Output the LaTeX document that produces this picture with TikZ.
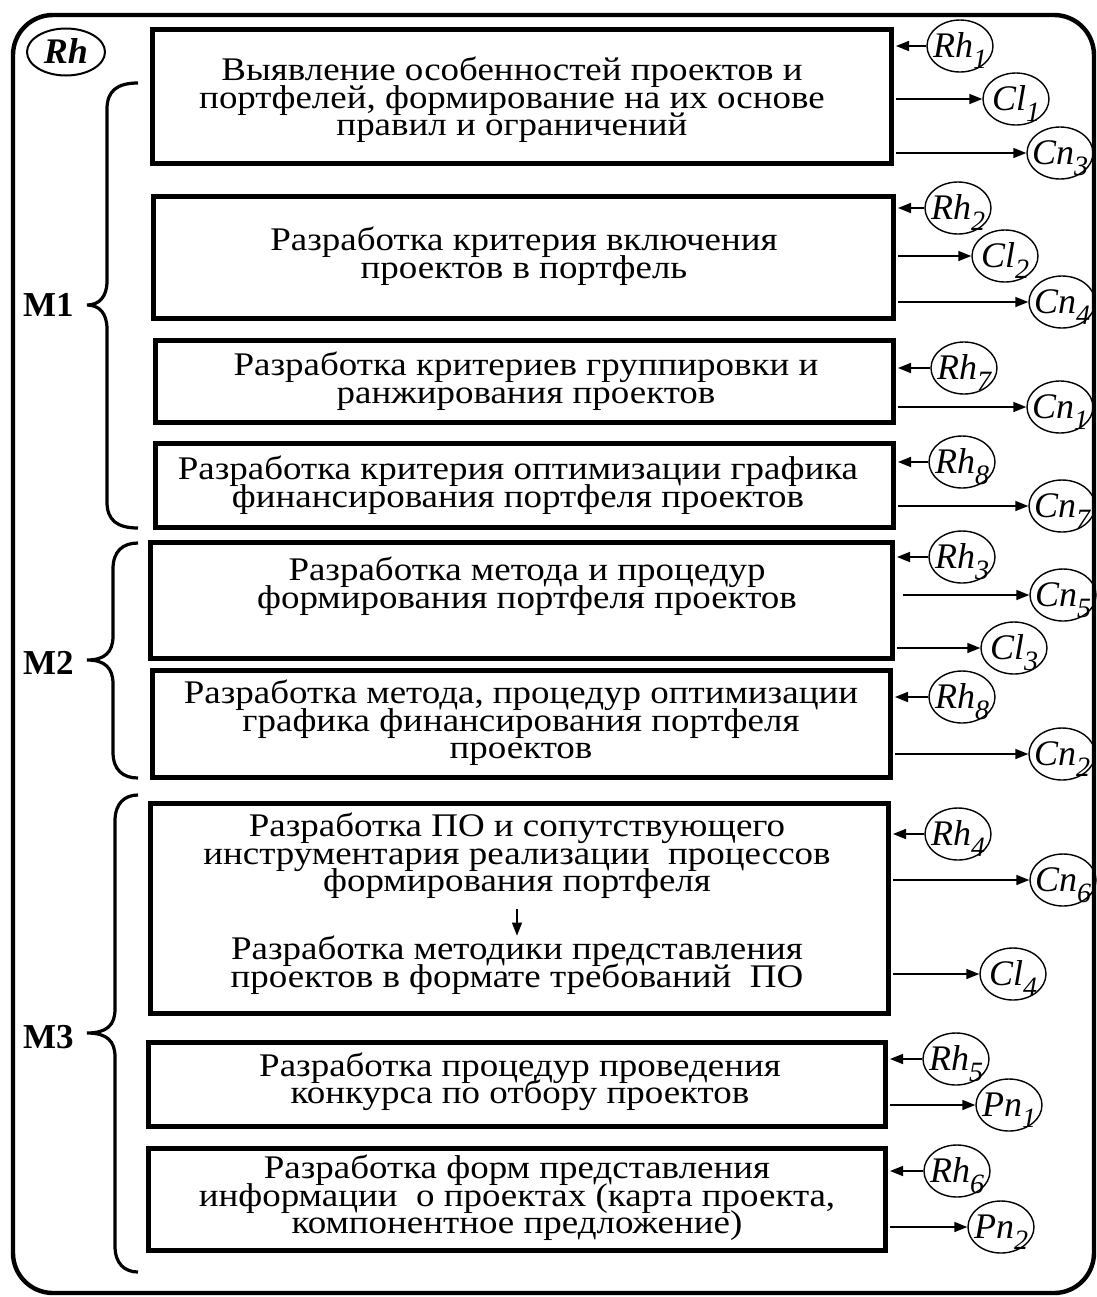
\documentclass[tikz,border=0pt]{standalone}
\usepackage{fontspec}
\setmainfont{Liberation Serif}
\newfontfamily\shirokij[FakeStretch=1.12]{Liberation Serif}
\usetikzlibrary{positioning,fit,arrows.meta,shapes.geometric}

\newcommand{\nizh}[2]{#1\raisebox{-5.5pt}{\fontsize{14}{14}\selectfont #2}}

\tikzset{
  blok/.style={draw, line width=2.5pt, inner sep=0pt},
  tekst/.style={align=center, inner sep=0pt,
    font=\shirokij\fontsize{16.5}{13.7}\selectfont\setlength{\lineskiplimit}{-20pt}},
  oval/.style={draw, ellipse, line width=0.7pt, minimum width=33pt, minimum height=26pt,
    inner sep=0pt, text height=11.5pt, text depth=0pt, font=\fontsize{18}{18}\selectfont\itshape},
  strelka/.style={-{Triangle[length=6.5pt,width=5pt]}, line width=0.8pt},
  skobka/.style={line width=1.6pt},
  rama/.style={line width=2.2pt, rounded corners=20pt},
  metka/.style={anchor=east, inner sep=0pt, font=\fontsize{17.5}{17.5}\selectfont\bfseries}
}

\begin{document}
\begin{tikzpicture}[x=0.5pt, y=-0.5pt]
  \useasboundingbox (0,0) rectangle (1097,1297);
  \draw[rama] (13,15) rectangle (1094,1293);
  \node[oval, line width=1pt, minimum width=39pt, minimum height=23.5pt,
    font=\fontsize{18}{18}\selectfont\bfseries\itshape] (rh) at (66,52) {\makebox[0pt]{Rh}};

  % boxes
  \node[blok, fit={(152,29) (891,163)}] (b1) {};
  \node[blok, fit={(153,196) (893,318)}] (b2) {};
  \node[blok, fit={(155,340) (893,422)}] (b3) {};
  \node[blok, fit={(155,443) (893,527)}] (b4) {};
  \node[blok, fit={(150,542) (892,658)}] (b5) {};
  \node[blok, fit={(152,670) (890,777)}] (b6) {};
  \node[blok, fit={(150,803) (888,1013)}] (b7) {};
  \node[blok, fit={(148,1042) (885,1126)}] (b8) {};
  \node[blok, fit={(148,1148) (885,1250)}] (b9) {};

  \node[tekst] (t1) at (512,100) {Выявление особенностей проектов и\\портфелей, формирование на их основе\\правил и ограничений};
  \node[tekst] (t2) at (524,256) {Разработка критерия включения\\проектов в портфель};
  \node[tekst] (t3) at (526,381) {Разработка критериев группировки и\\ранжирования проектов};
  \node[tekst] (t4) at (518,485) {Разработка критерия оптимизации графика\\финансирования портфеля проектов};
  \node[tekst] (t5) at (527,586) {Разработка метода и процедур\\формирования портфеля проектов};
  \node[tekst] (t6) at (521,723) {Разработка метода, процедур оптимизации\\графика финансирования портфеля\\проектов};
  \node[tekst] (t7a) at (517,856) {Разработка ПО и сопутствующего\\инструментария реализации\ \ процессов\\формирования портфеля};
  \node[tekst] (t7b) at (517,965) {Разработка методики представления\\проектов в формате требований\ \ ПО};
  \node[tekst] (t8) at (520,1082) {Разработка процедур проведения\\конкурса по отбору проектов};
  \node[tekst] (t9) at (517,1198) {Разработка форм представления\\информации\ \ о проектах (карта проекта,\\компонентное предложение)};
  \draw[strelka, line width=0.6pt, shorten <=5pt] (t7a) -- (t7b);

  % braces
  \foreach \ya/\yb/\yc/\xv in {83/305/528/107, 543/660/778/113, 795/1033/1272/115}
    \draw[skobka] (138,\ya) .. controls (\xv+10,\ya) and (\xv,\ya+8) .. (\xv,\ya+26)
      -- (\xv,\yb-24) .. controls (\xv,\yb-8) and (\xv-8,\yb) .. (87,\yb)
      .. controls (\xv-8,\yb) and (\xv,\yb+8) .. (\xv,\yb+24)
      -- (\xv,\yc-26) .. controls (\xv,\yc-8) and (\xv+10,\yc) .. (138,\yc);
  \node[metka] (m1) at (74,305) {M1};
  \node[metka] (m2) at (74,663) {M2};
  \node[metka] (m3) at (74,1037) {M3};

  % ovals
  \foreach \n/\x/\y/\a/\i in {rh1/960/46/Rh/1, cl1/1016/99/Cl/1, cn3/1060/153/Cn/3,
      rh2/958/208/Rh/2, cl2/1005/256/Cl/2, cn4/1062/302/Cn/4,
      rh7/964/368/Rh/7, cn1/1060/407/Cn/1,
      rh8a/962/462/Rh/8, cn7/1062/506/Cn/7,
      rh3/962/557/Rh/3, cn5/1063/595/Cn/5, cl3/1014/648/Cl/3,
      rh8b/962/697/Rh/8, cn2/1062/754/Cn/2,
      rh4/958/834/Rh/4, cn6/1063/880/Cn/6, cl4/1013/974/Cl/4,
      rh5/956/1059/Rh/5, pn1/1009/1105/Pn/1,
      rh6/957/1171/Rh/6, pn2/1001/1227/Pn/2}
    \node[oval] (\n) at (\x,\y) {\makebox[0pt]{\nizh{\a}{\i}}};

  % arrows
  \foreach \r/\b in {rh1/b1, rh2/b2, rh7/b3, rh8a/b4, rh3/b5, rh8b/b6, rh4/b7, rh5/b8, rh6/b9}
    \draw[strelka, shorten >=1.25pt] (\r) -- (\r -| \b.east);
  \foreach \b/\c in {b1/cl1, b1/cn3, b2/cl2, b2/cn4, b3/cn1, b4/cn7, b5/cl3,
      b6/cn2, b7/cn6, b7/cl4, b8/pn1, b9/pn2}
    \draw[strelka, shorten <=1.25pt] (\b.east |- \c) -- (\c);
  \draw[strelka, shorten <=4pt] (b5.east |- cn5) -- (cn5);
\end{tikzpicture}
\end{document}
